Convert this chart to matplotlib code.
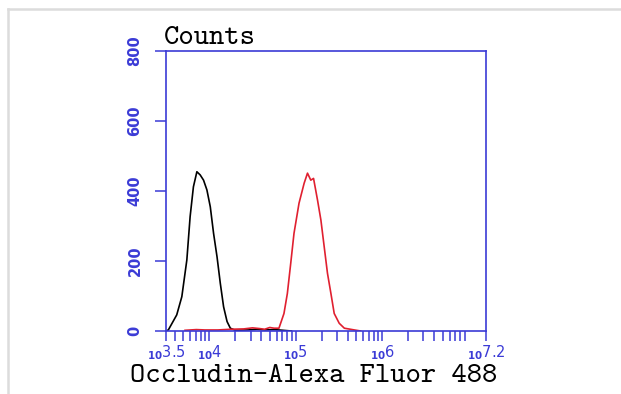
import matplotlib
matplotlib.use("Agg")
import matplotlib.pyplot as plt
from matplotlib.lines import Line2D
from matplotlib.ticker import FixedLocator, LogLocator, NullFormatter
import numpy as np

# log10 of fluorescence intensity and counts
ctrl_log = [3.50, 3.527, 3.624, 3.683, 3.741, 3.779, 3.817, 3.857, 3.895, 3.934,
            3.973, 4.012, 4.050, 4.090, 4.128, 4.166, 4.206, 4.244, 4.30, 4.45,
            4.55, 4.65, 4.75, 4.85, 4.95]
ctrl_counts = [0, 3, 46, 98, 203, 327, 412, 455, 446, 431,
               403, 355, 279, 212, 136, 69, 27, 8, 2, 3,
               5, 3, 4, 2, 0]

occl_log = [3.72, 3.85, 3.95, 4.10, 4.25, 4.40, 4.50, 4.58, 4.64, 4.70,
            4.75, 4.806, 4.864, 4.903, 4.942, 4.980, 5.038, 5.097, 5.136, 5.174,
            5.206, 5.252, 5.291, 5.329, 5.367, 5.407, 5.445, 5.503, 5.562, 5.678, 5.75]
occl_counts = [2, 4, 3, 3, 5, 6, 9, 7, 5, 10,
               8, 8, 50, 107, 193, 279, 365, 422, 451, 431,
               436, 374, 317, 241, 165, 107, 50, 22, 8, 3, 0]

xtick_exps = [3.5, 4, 5, 6, 7.2]
xtick_text = ["3.5", "4", "5", "6", "7.2"]
yticks = [0, 200, 400, 600, 800]

blue = "#3b3bd6"
mono = ["cmtt10", "DejaVu Sans Mono"]

fig = plt.figure(figsize=(6.21, 3.94), dpi=100)
ax = fig.add_axes([166 / 621, 63 / 394, 320 / 621, 280 / 394])

ax.plot(10 ** np.array(ctrl_log), ctrl_counts, color="black", lw=1.2)
ax.plot(10 ** np.array(occl_log), occl_counts, color="#e02030", lw=1.2)

ax.set_xscale("log")
ax.set_xlim(10 ** 3.5, 10 ** 7.2)
ax.set_ylim(0, 800)

for s in ax.spines.values():
    s.set_color(blue)
    s.set_linewidth(1.2)

ax.xaxis.set_major_locator(FixedLocator([10 ** e for e in xtick_exps]))
ax.set_xticklabels([r"$_{\mathbf{10}}$" + t for t in xtick_text])
ax.xaxis.set_minor_locator(LogLocator(base=10, subs=np.arange(2, 10)))
ax.xaxis.set_minor_formatter(NullFormatter())
ax.tick_params(axis="x", which="both", direction="out", length=7, width=1.1,
               color=blue, labelcolor=blue, labelsize=10.5, pad=2)

ax.set_yticks(yticks)
ax.set_yticklabels([str(v) for v in yticks], rotation=90, va="center",
                   fontweight="bold")
ax.tick_params(axis="y", direction="out", length=8, width=1.1, color=blue,
               labelcolor=blue, labelsize=10.5, pad=9)

fig.text(164 / 621, 1 - 38 / 394, "Counts", family=mono, fontsize=21,
         va="center", ha="left")
fig.text(314 / 621, 1 - 377 / 394, "Occludin-Alexa Fluor 488", family=mono,
         fontsize=21, va="center", ha="center")

# light grey frame of the screenshot
fig.add_artist(Line2D([7.5 / 621, 1], [1 - 8.5 / 394, 1 - 8.5 / 394],
                      transform=fig.transFigure, color="#dcdcdc", lw=1.8))
fig.add_artist(Line2D([7.5 / 621, 7.5 / 621], [0, 1 - 8.5 / 394],
                      transform=fig.transFigure, color="#dcdcdc", lw=1.8))

fig.savefig("out.png", dpi=100)
